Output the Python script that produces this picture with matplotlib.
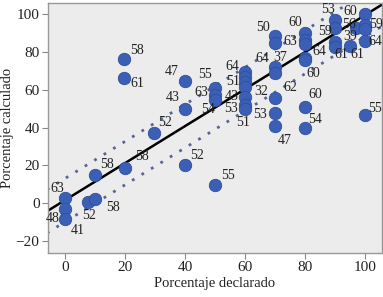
import numpy as np
import matplotlib
matplotlib.use('Agg')
import matplotlib.pyplot as plt

plt.rcParams['font.family'] = ['Liberation Serif', 'DejaVu Serif']

# data
declarado = [0, 0, 0, 7.7, 10, 10, 20, 40, 29.7, 19.7, 19.7, 40, 40, 50,
             50, 50, 50,
             60, 60, 60, 60, 60, 60, 60,
             70, 70, 70, 70, 70, 70, 70,
             80, 80, 80, 80, 80, 80, 80,
             90, 90, 90, 90, 95,
             100, 97, 100, 100, 100, 100]
calculado = [2.6, -3.2, -8.5, 0.5, 2, 14.9, 18.6, 20, 37, 76.4, 66.3, 64.7, 50, 9.5,
             61, 57.3, 54.6,
             69.5, 66.8, 64.2, 61.5, 56.2, 52, 50,
             88.6, 85, 72, 69, 55.7, 47.7, 40.8,
             90, 86.5, 84, 77, 76, 51, 40,
             97, 93, 85.4, 82.8, 83,
             100, 93, 94.5, 92, 86, 46.7]
etiquetas = ['63', '48', '41', '52', '58', '58', '58', '52', '52', '58', '61', '47', '43', '55',
             '55', '63', '54',
             '64', '', '51', '32', '43', '53', '51',
             '50', '63', '64', '37', '62', '53', '47',
             '60', '', '', '64', '60', '60', '54',
             '53', '59', '39', '61', '61',
             '60', '56', '59', '', '64', '55']
# label offsets in pixels
desplaz = [(-8, 10), (-12, -9), (13, -11), (1, -13), (18, -8), (12, 10), (17, 11), (12, 10),
           (11, 11), (13, 8), (13, -6), (-13, 9), (-12, 11), (13, 10),
           (-10, 13), (-14, 2), (-7, -10),
           (-13, 5), (0, 0), (-12, 0), (16, -5), (-13, 0), (-14, -4), (-2, -14),
           (-12, 8), (15, 1), (-13, 9), (5, 15), (15, 10), (-15, -1), (10, -14),
           (-10, 11), (0, 0), (0, 0), (15, 6), (8, -14), (10, 12), (10, 8),
           (-7, 10), (-10, -4), (15, 5), (7, -8), (8, -8),
           (-15, 3), (-7, 3), (11, 0), (0, 0), (11, -1), (10, 6)]

# fit line and prediction band
ordenada = 1.5
pendiente = 0.98
banda = 11.5

fig = plt.figure(figsize=(3.83, 2.97), dpi=100)
ax = fig.add_axes([0.125, 0.148, 0.872, 0.842])
ax.set_facecolor('#ececec')

xs = np.array([-6, 106])
ax.plot(xs, ordenada + pendiente * xs, color='black', lw=1.8, zorder=2)
ax.plot(xs, ordenada + pendiente * xs + banda, color='#55659a', lw=2,
        linestyle=(0, (1, 3)), zorder=2)
ax.plot(xs, ordenada + pendiente * xs - banda, color='#55659a', lw=2,
        linestyle=(0, (1, 3)), zorder=2)

ax.scatter(declarado, calculado, s=80, color='#3a5fb5', edgecolors='#2d4f9e',
           linewidths=0.6, zorder=3)

for x, y, t, d in zip(declarado, calculado, etiquetas, desplaz):
    if t:
        ax.annotate(t, (x, y), xytext=d, textcoords='offset pixels',
                    ha='center', va='center', fontsize=10, color='#222222', zorder=4)

ax.set_xlim(-5.7, 105.7)
ax.set_ylim(-26.5, 106)
ax.set_xticks([0, 20, 40, 60, 80, 100])
ax.set_yticks([-20, 0, 20, 40, 60, 80, 100])
ax.tick_params(labelsize=11, color='#888888', length=4, width=0.8, pad=2,
               labelcolor='#222222')
for s in ax.spines.values():
    s.set_color('#999999')
    s.set_linewidth(1)

ax.set_xlabel('Porcentaje declarado', fontsize=10.5, labelpad=2, color='#222222')
ax.set_ylabel('Porcentaje calculado', fontsize=10.5, labelpad=1, color='#222222')

fig.savefig('out.png', dpi=100)
